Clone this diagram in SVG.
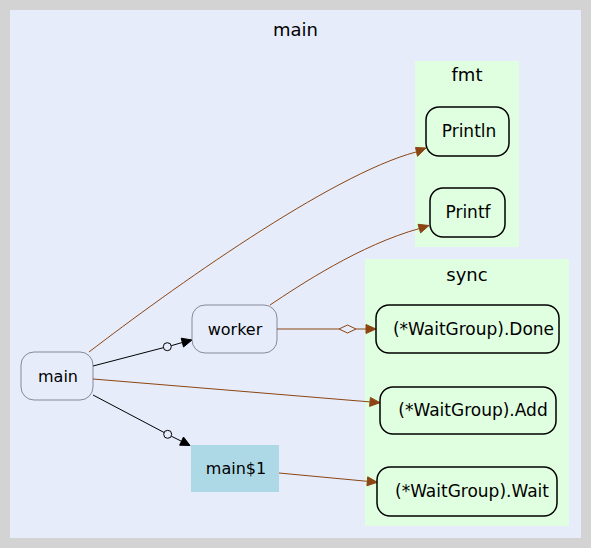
<svg xmlns="http://www.w3.org/2000/svg" width="591" height="548" viewBox="0 0 591 548">
<style>
text{font-family:"DejaVu Sans","Liberation Sans",sans-serif;fill:#000;text-anchor:middle}
.lbl{font-size:16px}
.plbl{font-size:17px}
.title{font-size:18px}
.pkg{fill:#e0ffe0;stroke:#000;stroke-width:1.5}
.loc{fill:#e6ecfa;stroke:#5e5e70;stroke-width:0.7}
.b{stroke:#000;stroke-width:1;fill:none}
.r{stroke:#8b4513;stroke-width:1;fill:none}
</style>
<rect x="0" y="0" width="591" height="548" fill="#d3d3d3"/>
<g id="cluster-main">
<rect x="10" y="10" width="571" height="528" fill="#e6ecfa"/>
<text class="title" x="295.5" y="36">main</text>
</g>
<g id="cluster-fmt">
<rect x="415" y="61" width="104" height="186" fill="#e0ffe0"/>
<text class="title" x="467" y="81">fmt</text>
</g>
<g id="cluster-sync">
<rect x="365" y="259" width="204" height="267" fill="#e0ffe0"/>
<text class="title" x="467" y="281">sync</text>
</g>
<g id="connectors">
<path class="b" d="M93,366 L163.4,347.7 M171.2,345.7 L182.3,342.5"/>
<circle cx="167.3" cy="346.7" r="4" fill="#e6ecfa" stroke="#000"/>
<polygon points="192,340 181.2,338.2 183.5,347" fill="#000" stroke="#000"/>
<path class="b" d="M93,395 L164.1,432.5 M171.3,436.2 L181.4,441.2"/>
<circle cx="167.7" cy="434.3" r="4" fill="#e6ecfa" stroke="#000"/>
<polygon points="190,445.5 183.5,437 179.6,445.2" fill="#000" stroke="#000"/>
<path class="r" d="M89,352 C170,290 330,175 416,152"/>
<polygon points="426,148 415.5,147.5 417.5,156.3" fill="#8b4513" stroke="#8b4513"/>
<path class="r" d="M270,305 C300,285 360,245 419.5,228.5"/>
<polygon points="429,225.5 418,224.3 420.6,232.9" fill="#8b4513" stroke="#8b4513"/>
<path class="r" d="M277,329 L339,329 M356,329 L366,329"/>
<polygon points="339,329 347.5,325 356,329 347.5,333" fill="#e6ecfa" stroke="#8b4513"/>
<polygon points="376,329 366,324.5 366,333.5" fill="#8b4513" stroke="#8b4513"/>
<path class="r" d="M93,379 L370,401.9"/>
<polygon points="380,402.7 370.4,397.4 369.6,406.4" fill="#8b4513" stroke="#8b4513"/>
<path class="r" d="M279,473 L367.3,481.3"/>
<polygon points="377.3,482.3 367.7,476.8 366.9,485.8" fill="#8b4513" stroke="#8b4513"/>
</g>
<g id="node-main">
<rect class="loc" x="21" y="352" width="72" height="48" rx="13"/>
<text class="lbl" x="58" y="382">main</text>
</g>
<g id="node-worker">
<rect class="loc" x="192" y="305" width="85" height="48" rx="13"/>
<text class="lbl" x="235" y="335">worker</text>
</g>
<g id="node-main1">
<rect x="191" y="445" width="88" height="47" fill="#add8e6"/>
<text class="lbl" x="236" y="474">main$1</text>
</g>
<g id="node-println">
<rect class="pkg" x="426" y="107" width="83" height="49" rx="13"/>
<text class="plbl" x="469" y="137">Println</text>
</g>
<g id="node-printf">
<rect class="pkg" x="430" y="188" width="75" height="49" rx="13"/>
<text class="plbl" x="468" y="218">Printf</text>
</g>
<g id="node-done">
<rect class="pkg" x="376" y="305" width="183" height="48" rx="13"/>
<text class="plbl" x="473.5" y="335">(*WaitGroup).Done</text>
</g>
<g id="node-add">
<rect class="pkg" x="380" y="387" width="176" height="47" rx="13"/>
<text class="plbl" x="473" y="416">(*WaitGroup).Add</text>
</g>
<g id="node-wait">
<rect class="pkg" x="377" y="467" width="180" height="49" rx="13"/>
<text class="plbl" x="472" y="497">(*WaitGroup).Wait</text>
</g>
</svg>
